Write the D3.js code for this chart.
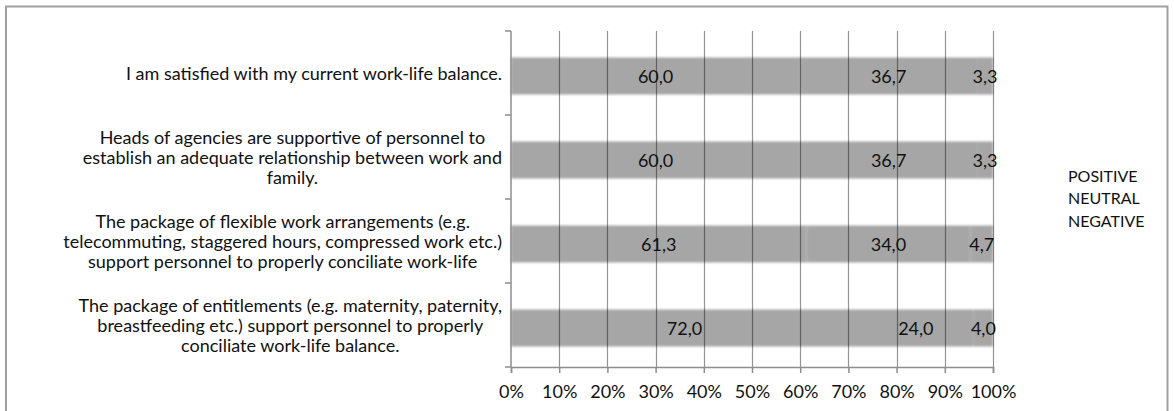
<!DOCTYPE html>
<html>
<head>
<meta charset="utf-8">
<script src="https://cdn.jsdelivr.net/npm/d3@7/dist/d3.min.js"></script>
<style>
  html, body { margin: 0; padding: 0; background: #fff; }
  svg { display: block; }
  text { font-family: Lato, "Open Sans", sans-serif; fill: #111; }
</style>
</head>
<body>
<svg id="chart" width="1174" height="411"></svg>
<script>
// ---- data ----
const categories = [
  ["I am satisfied with my current work-life balance."],
  ["Heads of agencies are supportive of personnel to", "establish an adequate relationship between work and", "family."],
  ["The package of flexible work arrangements (e.g.", "telecommuting, staggered hours, compressed work etc.)", "support personnel to properly conciliate work-life"],
  ["The package of entitlements (e.g. maternity, paternity,", "breastfeeding etc.) support personnel to properly", "conciliate work-life balance."]
];
const seriesNames = ["POSITIVE", "NEUTRAL", "NEGATIVE"];
const positive = [60.0, 60.0, 61.3, 72.0];
const neutral  = [36.7, 36.7, 34.0, 24.0];
const negative = [3.3, 3.3, 4.7, 4.0];
const tickValues = [0, 10, 20, 30, 40, 50, 60, 70, 80, 90, 100];
const tickLabels = ["0%", "10%", "20%", "30%", "40%", "50%", "60%", "70%", "80%", "90%", "100%"];

// ---- layout ----
const svg = d3.select("#chart");
const W = 1174, H = 411;
const plot = { left: 511, right: 993, top: 31, bottom: 367 };
const fontSize = 18;

const rows = categories.map((c, i) => ({
  i, lines: c, values: [positive[i], neutral[i], negative[i]]
}));

const x = d3.scaleLinear().domain([0, 100]).range([plot.left, plot.right]);
const y = d3.scaleBand().domain(rows.map(r => r.i)).range([plot.top, plot.bottom])
  .paddingInner(0.56).paddingOuter(0.28);
const yb = d3.scaleBand().domain(rows.map(r => r.i)).range([plot.top, plot.bottom]);

// outer border
svg.append("path")
  .attr("d", `M6,${H + 5} V6.5 H1167.5 V${H + 5}`)
  .attr("fill", "none").attr("stroke", "#a0a0a0").attr("stroke-width", 2);

// blur filter for soft bar edges
const defs = svg.append("defs");
defs.append("filter").attr("id", "soft").attr("x", "-5%").attr("y", "-30%")
  .attr("width", "110%").attr("height", "160%")
  .append("feGaussianBlur").attr("stdDeviation", 1.3);

// bars (stacked)
const stack = rows.map(r => {
  let acc = 0;
  return r.values.map((v, k) => {
    const s = { i: r.i, k, v, x0: acc, x1: acc + v };
    acc += v;
    return s;
  });
}).flat();

svg.append("g").attr("filter", "url(#soft)")
  .selectAll("rect").data(stack).join("rect")
  .attr("x", d => x(d.x0))
  .attr("y", d => y(d.i) + 3)
  .attr("width", d => x(d.x1) - x(d.x0))
  .attr("height", y.bandwidth())
  .attr("fill", "#a6a6a6");

// vertical gridlines drawn over the bars
svg.append("g").selectAll("line").data(tickValues.slice(1)).join("line")
  .attr("x1", d => Math.round(x(d)) + 0.5).attr("x2", d => Math.round(x(d)) + 0.5)
  .attr("y1", plot.top).attr("y2", plot.bottom)
  .attr("stroke", "#000").attr("stroke-opacity", 0.42).attr("stroke-width", 1.2);

// x axis
const xAxis = d3.axisBottom(x).tickValues(tickValues)
  .tickFormat((d, i) => tickLabels[i]).tickSize(6).tickPadding(12);
const gx = svg.append("g").attr("transform", `translate(0,${plot.bottom})`).call(xAxis);
gx.select(".domain").attr("stroke", "#8c8c8c").attr("stroke-width", 1.5);
gx.selectAll(".tick line").attr("stroke", "#8c8c8c").attr("stroke-width", 1.5);
gx.selectAll(".tick text").attr("font-size", fontSize).attr("font-family", "Lato").attr("fill", "#111");

// y axis (category boundaries as ticks)
const gy = svg.append("g");
gy.append("line").attr("x1", plot.left).attr("x2", plot.left)
  .attr("y1", plot.top).attr("y2", plot.bottom)
  .attr("stroke", "#8c8c8c").attr("stroke-width", 1.5);
const bounds = rows.map(r => yb(r.i)).concat([plot.bottom]);
gy.selectAll("line.t").data(bounds).join("line").attr("class", "t")
  .attr("x1", plot.left - 6).attr("x2", plot.left)
  .attr("y1", d => d).attr("y2", d => d)
  .attr("stroke", "#8c8c8c").attr("stroke-width", 1.5);

// category labels: block right-aligned to the axis, lines centered in block
const lineH = 20;
const labelRight = plot.left - 9;
rows.forEach(r => {
  const g = svg.append("g");
  const texts = r.lines.map((ln, j) => g.append("text")
    .attr("font-size", fontSize)
    .attr("text-anchor", "middle")
    .attr("dominant-baseline", "central")
    .attr("y", yb(r.i) + yb.bandwidth() / 2 + (j - (r.lines.length - 1) / 2) * lineH)
    .text(ln));
  const wMax = d3.max(texts, t => t.node().getComputedTextLength());
  texts.forEach(t => t.attr("x", labelRight - wMax / 2));
});

// data labels
const fmt = v => d3.format(".1f")(v).replace(".", ",");
svg.append("g").selectAll("text").data(stack).join("text")
  .attr("x", d => (x(d.x0) + x(d.x1)) / 2)
  .attr("y", d => y(d.i) + 3 + y.bandwidth() / 2)
  .attr("text-anchor", "middle")
  .attr("dominant-baseline", "central")
  .attr("font-size", fontSize)
  .text(d => fmt(d.v));

// legend (text only)
const legendY = d3.scalePoint().domain(seriesNames).range([175, 220]);
svg.append("g").selectAll("text").data(seriesNames).join("text")
  .attr("x", 1068).attr("y", d => legendY(d))
  .attr("dominant-baseline", "central")
  .attr("font-size", 16)
  .text(d => d);
</script>
</body>
</html>
